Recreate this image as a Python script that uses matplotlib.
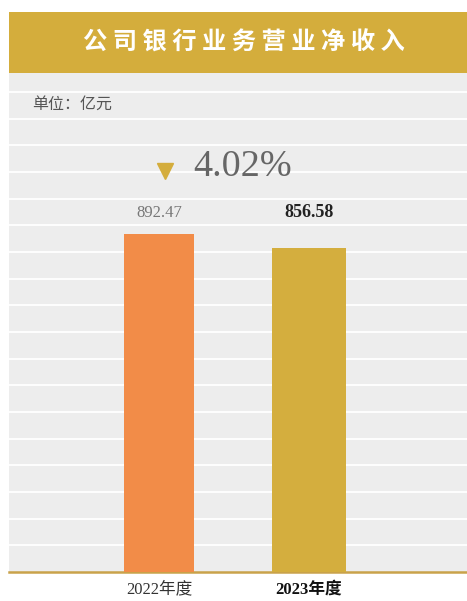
import matplotlib.pyplot as plt
import numpy as np

# data
years = ['2022年度', '2023年度']
values = [892.47, 856.58]
change_label = '4.02%'
title = '公司银行业务营业净收入'
unit = '单位：亿元'

colors = ['#F28C48', '#D4AE3E']
widths = [0.467, 0.493]
gold = '#D4AD3C'
serif_cjk = ['Liberation Serif', 'Noto Sans CJK SC', 'DejaVu Sans']

W, H = 467, 601
fig = plt.figure(figsize=(W / 100, H / 100), dpi=100)

def px_box(x0, y0, x1, y1):
    """pixel box (top-left origin) -> figure fraction rect"""
    return [x0 / W, 1 - y1 / H, (x1 - x0) / W, (y1 - y0) / H]

# title bar
tax = fig.add_axes(px_box(9, 12, 467, 73))
tax.set_facecolor(gold)
tax.set_xticks([])
tax.set_yticks([])
for s in tax.spines.values():
    s.set_visible(False)
tax.text(0.512, 0.5, ' '.join(title), ha='center', va='center', color='white',
         fontsize=17.5, fontweight='bold', family=['Noto Sans CJK SC', 'DejaVu Sans'],
         transform=tax.transAxes)

# main panel
ax = fig.add_axes(px_box(9, 73, 467, 572))
ax.set_facecolor('#EDEDED')
ymax = 1318
step = 70.45
ax.set_ylim(0, ymax)
ax.set_xlim(-1.0, 2.053)
for g in np.arange(step, ymax, step):
    ax.axhline(g, color='white', lw=1.3, zorder=1)

x = np.arange(len(values))
ax.bar(x, values, width=widths, color=colors, zorder=3)

for s in ['top', 'right', 'left']:
    ax.spines[s].set_visible(False)
ax.spines['bottom'].set_color('#C9A24A')
ax.spines['bottom'].set_linewidth(1.8)
ax.set_yticks([])
ax.set_xticks(x)
ax.set_xticklabels(years)
ax.tick_params(axis='x', length=0, pad=7)
labs = ax.get_xticklabels()
for i, lab in enumerate(labs):
    lab.set_family(serif_cjk)
    lab.set_fontsize(12)
    lab.set_color('#333333' if i == 0 else '#111111')
    if i == 1:
        lab.set_fontweight('bold')

# value labels
ax.text(x[0], values[0] + 57, f'{values[0]:.2f}', ha='center', va='center',
        fontsize=12, color='#777777', family=serif_cjk, zorder=4)
ax.text(x[1], values[0] + 57, f'{values[1]:.2f}', ha='center', va='center',
        fontsize=13, color='#222222', fontweight='bold', family=serif_cjk, zorder=4)

# change marker
ax.plot([0.04], [values[0] + 168], marker='v', markersize=12, color=gold, zorder=4)
ax.text(0.23, values[0] + 178, change_label, ha='left', va='center',
        fontsize=27.5, color='#666666', family=serif_cjk, zorder=4)

# unit
ax.text(0.05, 1235, unit, ha='left', va='center', fontsize=11.5, color='#555555',
        family=['Noto Sans CJK SC', 'DejaVu Sans'], transform=ax.get_yaxis_transform())

fig.savefig('out.png', dpi=100)
